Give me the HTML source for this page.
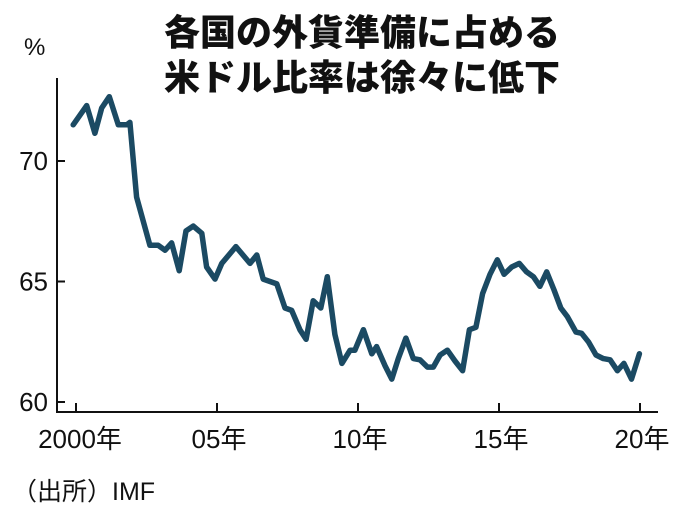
<!DOCTYPE html>
<html><head><meta charset="utf-8"><style>
html,body{margin:0;padding:0;background:#fff;}
svg{display:block;}
text{font-family:"Liberation Sans","Noto Sans CJK JP",sans-serif;fill:#111;}
</style></head><body>
<svg width="677" height="521" viewBox="0 0 677 521">
<text x="362" y="45" text-anchor="middle" font-size="36" font-weight="900">各国の外貨準備に占める</text>
<text x="362" y="90" text-anchor="middle" font-size="36" font-weight="900">米ドル比率は徐々に低下</text>
<text x="24" y="55" font-size="24">%</text>
<g id="axes"></g>
<path id="series" fill="none" stroke="#1b4a63" stroke-width="5.5" stroke-linejoin="round" stroke-linecap="round"/>
<text x="12" y="500" font-size="25">（出所）IMF</text>
</svg>
<script>
const years=[1999.90,2000.38,2000.67,2000.91,2001.18,2001.50,2001.80,2001.91,2002.15,2002.62,2002.91,2003.16,2003.39,2003.66,2003.90,2004.16,2004.46,2004.63,2004.93,2005.17,2005.67,2006.17,2006.41,2006.64,2007.12,2007.41,2007.65,2007.94,2008.16,2008.41,2008.68,2008.91,2009.18,2009.43,2009.72,2009.89,2010.19,2010.49,2010.66,2010.96,2011.20,2011.43,2011.70,2011.96,2012.20,2012.46,2012.67,2012.91,2013.17,2013.44,2013.71,2013.95,2014.18,2014.42,2014.68,2014.94,2015.18,2015.45,2015.72,2015.98,2016.22,2016.45,2016.69,2016.95,2017.19,2017.42,2017.73,2017.93,2018.17,2018.44,2018.70,2018.94,2019.20,2019.43,2019.70,2019.98];
const values=[71.5,72.3,71.15,72.2,72.67,71.5,71.5,71.6,68.5,66.5,66.5,66.3,66.6,65.45,67.1,67.3,67.0,65.6,65.1,65.75,66.45,65.75,66.1,65.1,64.9,63.9,63.8,63.0,62.6,64.2,63.9,65.2,62.8,61.6,62.15,62.15,63.0,62.0,62.3,61.5,60.95,61.8,62.65,61.8,61.75,61.45,61.45,61.95,62.15,61.7,61.3,63.0,63.1,64.5,65.3,65.9,65.3,65.6,65.75,65.4,65.2,64.8,65.4,64.65,63.9,63.55,62.9,62.85,62.5,61.95,61.8,61.75,61.3,61.6,60.95,62.0];
const yTicks=[60,65,70];
const yTickLabels=["60","65","70"];
const xTicks=[2000,2005,2010,2015,2020];
const xTickLabels=["2000年","05年","10年","15年","20年"];
const X=y=>76+(y-2000)*28.2;
const Y=v=>402-(v-60)*24.1;
const NS="http://www.w3.org/2000/svg";
const g=document.getElementById('axes');
function mk(tag,attrs){const e=document.createElementNS(NS,tag);for(const k in attrs)e.setAttribute(k,attrs[k]);g.appendChild(e);return e;}
let a=mk('path',{d:'M57,78 V412 H658',fill:'none',stroke:'#111','stroke-width':2});


yTicks.forEach((t,i)=>{
 let l=mk('line',{x1:57,x2:65,y1:Y(t),y2:Y(t),stroke:'#111','stroke-width':2});
 
 
 let tx=mk('text',{x:48,y:Y(t)+9,'text-anchor':'end','font-size':26});
 tx.textContent=yTickLabels[i];
 
 
});
xTicks.forEach((t,i)=>{
 let l=mk('line',{x1:X(t),x2:X(t),y1:403,y2:412,stroke:'#111','stroke-width':2});
 
 
 let tx=mk('text',{x:X(t)+(i==0?4:2),y:448,'text-anchor':'middle','font-size':26});
 tx.textContent=xTickLabels[i];
 
 
});
document.getElementById('series').setAttribute('d',years.map((y,i)=>(i?'L':'M')+X(y).toFixed(1)+','+Y(values[i]).toFixed(1)).join(' '));
</script>
</body></html>
